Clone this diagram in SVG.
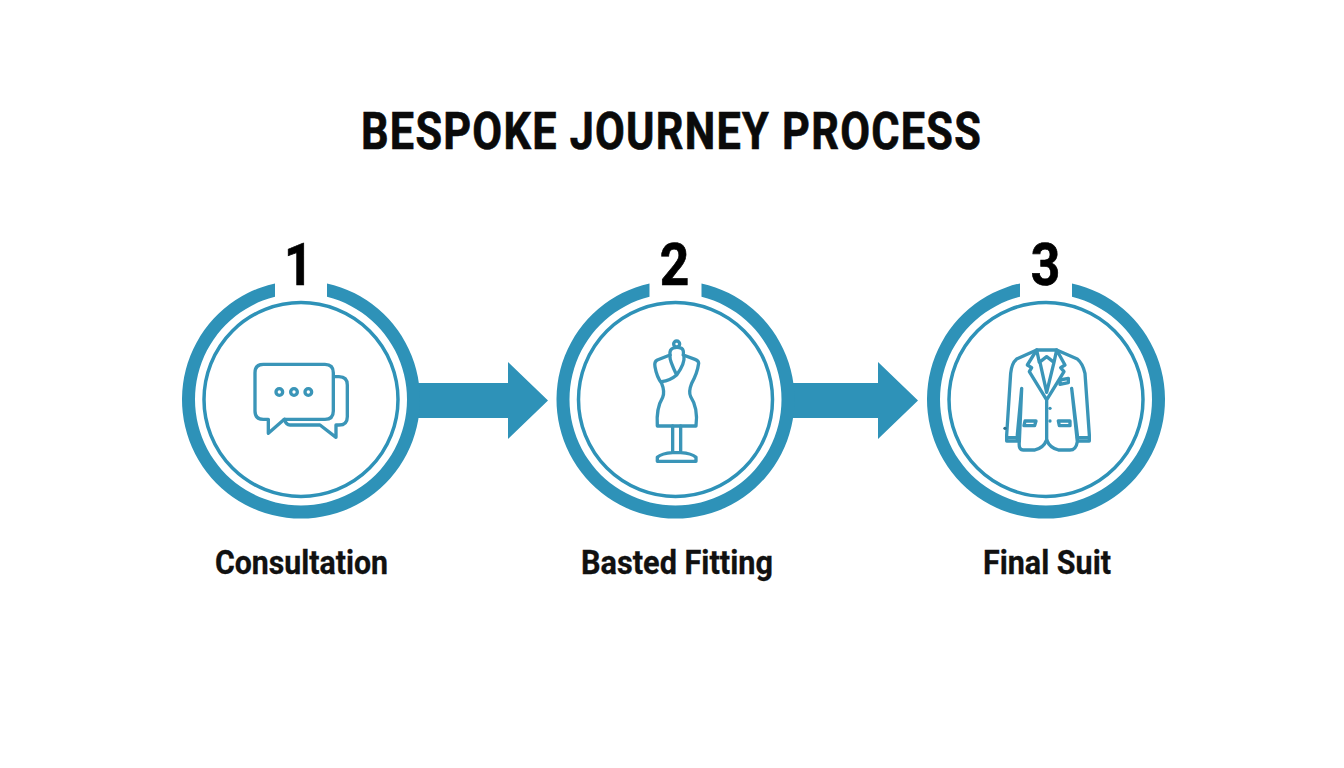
<svg xmlns="http://www.w3.org/2000/svg" width="1344" height="768" viewBox="0 0 1344 768">
<style>
.t{font-family:Roboto,"Liberation Sans",sans-serif;font-weight:700;fill:#0a0a0a;text-anchor:middle}
.title{font-size:52px;letter-spacing:1.5px;stroke:#0a0a0a;stroke-width:.7px}
.num{font-size:59px;fill:#000;stroke:#000;stroke-width:.7px}
.lab{font-size:33px;fill:#111;stroke:#111;stroke-width:.3px}
.ring{fill:#2e92b8}
.inner{fill:none;stroke:#2e92b8;stroke-width:3.5}
.ic{fill:none;stroke:#3a95b8;stroke-width:10;stroke-linejoin:round;stroke-linecap:round}
.arr{fill:#2e92b8}
</style>
<defs>
<path id="ringShape" class="ring" d="M-26 -116.1A119 119 0 1 0 26 -116.1L26 -102.8A106 106 0 1 1 -26 -102.8Z"/>
</defs>
<rect width="1344" height="768" fill="#fff"/>
<text id="title" class="t title" x="671.5" y="148.5" textLength="621" lengthAdjust="spacingAndGlyphs">BESPOKE JOURNEY PROCESS</text>
<g id="connectors">
<path class="arr" d="M416 383H508V362L548 400.5L508 439V418H416Z"/>
<path class="arr" d="M788 383H878V362L918 400.5L878 439V418H788Z"/>
</g>
<g id="node1">
<use href="#ringShape" x="301" y="399.5"/>
<circle class="inner" cx="301" cy="399.5" r="97"/>
<text class="t num" x="298.5" y="285" textLength="29" lengthAdjust="spacingAndGlyphs">1</text>
<g transform="translate(240 350) scale(.3333)">
<path class="ic" d="M70 43H255Q280 43 280 68V183Q280 208 255 208H133L85 250V208H70Q45 208 45 183V68Q45 43 70 43Z"/>
<path class="ic" d="M284 80H297Q322 80 322 105V200Q322 225 297 225H288V262L240 225H150Q138 225 133 208"/>
<circle class="ic" cx="118" cy="126" r="10"/><circle class="ic" cx="162" cy="126" r="10"/><circle class="ic" cx="205" cy="126" r="10"/>
</g>
<text class="t lab" x="301.5" y="574" textLength="173" lengthAdjust="spacingAndGlyphs">Consultation</text>
</g>
<g id="node2">
<use href="#ringShape" x="675.5" y="399.5"/>
<circle class="inner" cx="675.5" cy="399.5" r="97"/>
<text class="t num" x="674.5" y="285" textLength="29.5" lengthAdjust="spacingAndGlyphs">2</text>
<g transform="translate(620 320) scale(.3333)">
<circle class="ic" cx="170" cy="72" r="9"/>
<path class="ic" d="M150 105Q148 88 160 84Q172 80 185 85Q192 90 190 105"/>
<path class="ic" d="M150 105L112 120Q102 125 105 140Q110 170 125 190Q135 215 128 232Q108 265 112 318H228Q235 265 212 230Q205 215 215 190Q232 160 236 130Q236 122 225 118L190 105"/>
<path class="ic" d="M150 108Q148 120 170 165Q150 182 125 185M192 110Q195 130 170 165"/>
<path class="ic" d="M158 318V398M182 318V398M158 398H182Q215 400 228 412V424H112V412Q125 400 158 398Z"/>
</g>
<text class="t lab" x="677" y="574" textLength="192" lengthAdjust="spacingAndGlyphs">Basted Fitting</text>
</g>
<g id="node3">
<use href="#ringShape" x="1046" y="399.5"/>
<circle class="inner" cx="1046" cy="399.5" r="97"/>
<text class="t num" x="1045.5" y="285" textLength="29.5" lengthAdjust="spacingAndGlyphs">3</text>
<g transform="translate(990 335) scale(.3333)">
<path class="ic" d="M140 45H200L262 72Q278 85 285 115L298 300V318H262V300L245 160L262 320Q258 345 240 345H205Q180 340 170 315Q160 340 135 345H100Q85 345 88 320L95 160L82 300V318H50V300L62 115Q65 85 80 72Z"/>
<path class="ic" d="M140 45L112 90L125 98L118 110L170 195L222 110L212 98L225 90L200 45M140 45L148 82L170 65L192 82L200 45M150 82L170 172L192 82M170 195V315"/>
<path class="ic" d="M105 258H138L134 272H102ZM205 258H240V272H208ZM210 135L235 130V143L210 148ZM50 308H82M262 308H298"/>
<circle cx="180" cy="220" r="5" fill="#3a95b8"/><circle cx="180" cy="258" r="5" fill="#3a95b8"/><circle cx="45" cy="280" r="5" fill="#2a6f8c"/>
</g>
<text class="t lab" x="1047" y="574" textLength="128" lengthAdjust="spacingAndGlyphs">Final Suit</text>
</g>
</svg>
